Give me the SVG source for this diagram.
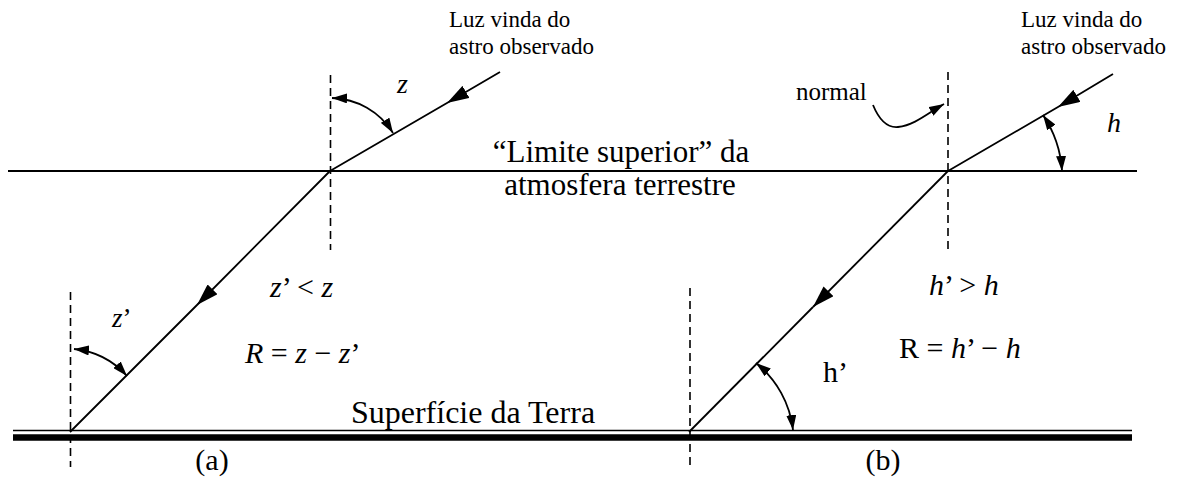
<svg xmlns="http://www.w3.org/2000/svg" width="1181" height="479" viewBox="0 0 1181 479">
<style>
text{font-family:"Liberation Serif",Tinos,"Times New Roman","DejaVu Serif",serif;fill:#000}
.it{font-style:italic}
.ln{stroke:#000;fill:none}
.dash{stroke:#000;stroke-width:1.6;stroke-dasharray:8,5;fill:none}
.ray{stroke:#000;stroke-width:1.8;fill:none}
.arc{stroke:#000;stroke-width:1.8;fill:none;marker-start:url(#ah);marker-end:url(#ah)}
</style>
<defs>
<marker id="big" markerUnits="userSpaceOnUse" viewBox="0 0 22 14" markerWidth="22" markerHeight="14" refX="22" refY="7" orient="auto"><path d="M0,0 L22,7 L0,14 z" fill="#000"/></marker>
<marker id="ah" markerUnits="userSpaceOnUse" viewBox="0 0 15 10" markerWidth="15" markerHeight="10" refX="15" refY="5" orient="auto-start-reverse"><path d="M0,0 L15,5 L0,10 z" fill="#000"/></marker>
</defs>

<g id="surfaces">
<line class="ln" x1="8" y1="171" x2="1137" y2="171" stroke-width="2"/>
<line class="ln" x1="13" y1="430.5" x2="1132" y2="430.5" stroke-width="1.6"/>
<line class="ln" x1="13" y1="437.5" x2="1132" y2="437.5" stroke-width="6.4"/>
</g>

<g id="normals">
<line class="dash" x1="330.5" y1="75" x2="330.5" y2="250"/>
<line class="dash" x1="70.5" y1="292" x2="70.5" y2="467"/>
<line class="dash" x1="948" y1="72" x2="948" y2="250"/>
<line class="dash" x1="690" y1="288" x2="690" y2="466"/>
</g>

<g id="connectors">
<path class="ray" d="M500,72 L447,103 L330,171" marker-mid="url(#big)"/>
<path class="ray" d="M330,171 L197,305 L70,432" marker-mid="url(#big)" stroke-width="1.6"/>
<path class="ray" d="M1113,74 L1058,107 L948,171" marker-mid="url(#big)"/>
<path class="ray" d="M948,171 L813,307" marker-end="url(#big)" stroke-width="2.6"/>
<path class="ray" d="M813,307 L689,432" stroke-width="1.6"/>
<path class="arc" d="M393,133 A74,74 0 0 0 332,98"/>
<path class="arc" d="M127,376 A82,82 0 0 0 74,349"/>
<path class="arc" d="M1043,115 A113,113 0 0 1 1062,171"/>
<path class="arc" d="M756,363 A100,100 0 0 1 793,430"/>
<path class="ln" stroke-width="1.8" d="M873,105 C880,122 888,128 898,127 C915,125 928,113 944,104" marker-end="url(#ah)"/>
</g>

<g id="labels-a">
<text x="449" y="27" font-size="23">Luz vinda do</text>
<text x="449" y="54" font-size="23">astro observado</text>
<text x="397" y="93" font-size="28" class="it">z</text>
<text x="112" y="327" font-size="27"><tspan class="it">z</tspan>’</text>
<text x="270" y="297" font-size="30"><tspan class="it">z</tspan>’ &lt; <tspan class="it">z</tspan></text>
<text x="245" y="363" font-size="30"><tspan class="it">R</tspan> = <tspan class="it">z</tspan> − <tspan class="it">z</tspan>’</text>
<text x="212" y="470" font-size="30" text-anchor="middle">(a)</text>
</g>

<g id="labels-mid">
<text x="621" y="162" font-size="31" text-anchor="middle">“Limite superior” da</text>
<text x="620" y="195" font-size="31" text-anchor="middle">atmosfera terrestre</text>
<text x="473" y="423" font-size="32" text-anchor="middle">Superfície da Terra</text>
</g>

<g id="labels-b">
<text x="1021" y="27" font-size="23">Luz vinda do</text>
<text x="1021" y="54" font-size="23">astro observado</text>
<text x="796" y="100" font-size="25">normal</text>
<text x="1107" y="132" font-size="28" class="it">h</text>
<text x="823" y="382" font-size="30">h’</text>
<text x="929" y="295" font-size="30"><tspan class="it">h</tspan>’ &gt; <tspan class="it">h</tspan></text>
<text x="899" y="358" font-size="30">R = <tspan class="it">h</tspan>’ − <tspan class="it">h</tspan></text>
<text x="883" y="470" font-size="30" text-anchor="middle">(b)</text>
</g>
</svg>
